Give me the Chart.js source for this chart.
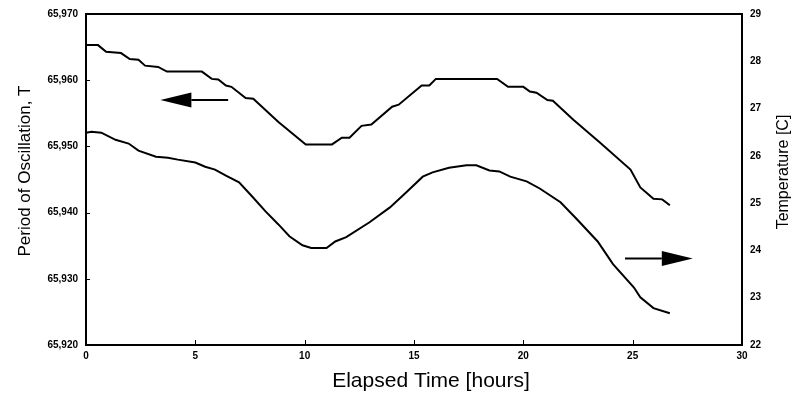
<!DOCTYPE html>
<html>
<head>
<meta charset="utf-8">
<script src="https://cdn.jsdelivr.net/npm/chart.js@4.4.1/dist/chart.umd.min.js"></script>
<style>
  html, body { margin: 0; padding: 0; background: #fff; }
</style>
</head>
<body>
<canvas id="oscChart" width="797" height="394"></canvas>
<script>
// period of oscillation (left axis)
const periodHours = [0, 0.55, 0.92, 1.6, 2.0, 2.4, 2.7, 3.3, 3.7, 5.3, 5.75, 6.05, 6.4, 6.65, 7.3, 7.65, 8.8, 10.05, 11.25, 11.7, 12.05, 12.6, 13.05, 14.0, 14.3, 15.35, 15.7, 16.0, 18.8, 19.3, 20.0, 20.3, 20.6, 21.1, 21.35, 22.3, 23.5, 24.9, 25.35, 25.95, 26.35, 26.7];
const periodValues = [65965.3, 65965.3, 65964.3, 65964.1, 65963.2, 65963.1, 65962.2, 65962.0, 65961.3, 65961.3, 65960.2, 65960.1, 65959.2, 65959.0, 65957.3, 65957.2, 65953.7, 65950.3, 65950.3, 65951.3, 65951.3, 65953.1, 65953.3, 65956.0, 65956.3, 65959.2, 65959.2, 65960.2, 65960.2, 65959.0, 65959.0, 65958.3, 65958.1, 65957.0, 65956.9, 65954.0, 65950.6, 65946.5, 65943.8, 65942.1, 65942.0, 65941.1];

// temperature (right axis)
const tempHours = [0, 0.25, 0.7, 1.35, 1.95, 2.4, 3.2, 3.75, 4.2, 5.0, 5.45, 5.9, 6.4, 7.0, 7.6, 8.2, 8.8, 9.3, 9.9, 10.3, 11.0, 11.4, 11.9, 12.95, 13.9, 14.65, 15.4, 15.85, 16.6, 17.4, 17.85, 18.45, 18.9, 19.4, 20.15, 20.75, 21.7, 22.45, 23.4, 24.1, 25.05, 25.35, 25.95, 26.7];
const tempValues = [26.49, 26.51, 26.49, 26.34, 26.26, 26.11, 25.98, 25.96, 25.92, 25.86, 25.77, 25.71, 25.58, 25.44, 25.14, 24.83, 24.55, 24.30, 24.11, 24.05, 24.05, 24.19, 24.28, 24.59, 24.91, 25.23, 25.56, 25.65, 25.75, 25.80, 25.80, 25.69, 25.67, 25.56, 25.46, 25.31, 25.02, 24.66, 24.19, 23.71, 23.22, 23.01, 22.78, 22.67];

const xTicks = [0, 5, 10, 15, 20, 25, 30];
const periodTicks = [65920, 65930, 65940, 65950, 65960, 65970];
const tempTicks = [22, 23, 24, 25, 26, 27, 28, 29];

const xTitle = "Elapsed Time [hours]";
const leftTitle = "Period of Oscillation, T";
const rightTitle = "Temperature [C]";

// arrows pointing at the axis each curve belongs to (tail hour, tip hour, level)
const arrowTail = [6.5, 24.65];
const arrowTip = [3.4, 27.75];
const arrowLevel = [65957.0, 23.83];
const arrowAxis = ["yP", "yT"];

const FONT = "Liberation Sans, Arial, sans-serif";
const tickFont = { family: FONT, size: 10, weight: "bold" };

const framePlugin = {
    id: "frame",
    afterDraw(chart) {
        const c = chart.ctx;
        const a = chart.chartArea;
        const xs = chart.scales.x;
        const yp = chart.scales.yP;
        c.save();
        c.strokeStyle = "#000";
        c.lineWidth = 2;
        c.strokeRect(a.left, a.top, a.right - a.left, a.bottom - a.top);

        // small inward tick marks
        c.lineWidth = 1;
        xTicks.forEach(v => {
            const px = Math.round(xs.getPixelForValue(v)) + 0.5;
            c.beginPath();
            c.moveTo(px, a.bottom);
            c.lineTo(px, a.bottom - 5);
            c.stroke();
        });
        periodTicks.forEach(v => {
            const py = Math.round(yp.getPixelForValue(v)) + 0.5;
            c.beginPath();
            c.moveTo(a.left, py);
            c.lineTo(a.left + 4, py);
            c.stroke();
        });

        // arrows
        c.fillStyle = "#000";
        arrowTail.forEach((t, i) => {
            const ys = chart.scales[arrowAxis[i]];
            const x0 = xs.getPixelForValue(t);
            const x1 = xs.getPixelForValue(arrowTip[i]);
            const y = ys.getPixelForValue(arrowLevel[i]);
            const dir = x1 > x0 ? 1 : -1;
            const headLen = 31;
            c.lineWidth = 2;
            c.beginPath();
            c.moveTo(x0, y);
            c.lineTo(x1 - dir * headLen, y);
            c.stroke();
            c.beginPath();
            c.moveTo(x1, y);
            c.lineTo(x1 - dir * headLen, y - 7.5);
            c.lineTo(x1 - dir * headLen, y + 7.5);
            c.closePath();
            c.fill();
        });

        // axis titles (both vertical ones read bottom to top)
        c.fillStyle = "#000";
        c.textAlign = "center";
        c.textBaseline = "alphabetic";
        c.font = "21px " + FONT;
        c.fillText(xTitle, 431, 387);

        c.font = "17px " + FONT;
        c.save();
        c.translate(30, 171);
        c.rotate(-Math.PI / 2);
        c.fillText(leftTitle, 0, 0);
        c.restore();

        c.font = "16px " + FONT;
        c.save();
        c.translate(788, 172);
        c.rotate(-Math.PI / 2);
        c.fillText(rightTitle, 0, 0);
        c.restore();

        c.restore();
    }
};

new Chart(document.getElementById("oscChart"), {
    type: "line",
    data: {
        datasets: [{
            label: "Period",
            yAxisID: "yP",
            data: periodHours.map((t, i) => ({ x: t, y: periodValues[i] })),
            borderColor: "#000",
            borderWidth: 2,
            pointRadius: 0,
            tension: 0,
            fill: false
        }, {
            label: "Temperature",
            yAxisID: "yT",
            data: tempHours.map((t, i) => ({ x: t, y: tempValues[i] })),
            borderColor: "#000",
            borderWidth: 2,
            pointRadius: 0,
            tension: 0,
            fill: false
        }]
    },
    options: {
        responsive: false,
        animation: false,
        devicePixelRatio: 1,
        layout: { padding: { top: 13, left: 0, right: 0, bottom: 0 } },
        plugins: {
            legend: { display: false },
            tooltip: { enabled: false }
        },
        scales: {
            x: {
                type: "linear",
                position: "bottom",
                min: 0,
                max: 30,
                afterBuildTicks: s => { s.ticks = xTicks.map(v => ({ value: v })); },
                afterFit: s => { s.height = 49; },
                grid: { display: false, drawTicks: false },
                border: { display: false },
                ticks: { color: "#000", font: tickFont, padding: 5, maxRotation: 0 }
            },
            yP: {
                position: "left",
                min: 65920,
                max: 65970,
                afterBuildTicks: s => { s.ticks = periodTicks.map(v => ({ value: v })); },
                afterFit: s => { s.width = 86; },
                grid: { display: false, drawTicks: false },
                border: { display: false },
                ticks: {
                    color: "#000",
                    font: tickFont,
                    padding: 8,
                    callback: v => v.toLocaleString("en-US")
                }
            },
            yT: {
                position: "right",
                min: 22,
                max: 29,
                afterBuildTicks: s => { s.ticks = tempTicks.map(v => ({ value: v })); },
                afterFit: s => { s.width = 55; },
                grid: { display: false, drawTicks: false },
                border: { display: false },
                ticks: { color: "#000", font: tickFont, padding: 8 }
            }
        }
    },
    plugins: [framePlugin]
});
</script>
</body>
</html>
